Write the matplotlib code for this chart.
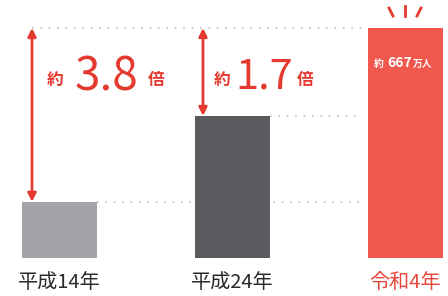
import matplotlib
matplotlib.use("Agg")
import matplotlib.pyplot as plt

plt.rcParams['font.family'] = ['Noto Sans CJK JP', 'DejaVu Sans']

categories = ["平成14年", "平成24年", "令和4年"]
values = [163, 412, 667]
ratio_labels = ["3.8", "1.7"]
value_label = "667"

bar_colors = ["#a3a4a8", "#5b5b5f", "#f0584e"]
label_colors = ["#2a2a2a", "#2a2a2a", "#e8483e"]
red = "#e53a2f"

W, H = 448, 296
fig = plt.figure(figsize=(W / 100, H / 100), dpi=100)
ax = fig.add_axes([0, (H - 258) / H, 1, 258 / H])
ax.set_axis_off()

sp = 173.0
width = 75 / sp
ax.set_xlim(-59.5 / sp, 2 + (W - 405.5) / sp)
ax.set_ylim(0, values[2] * 258 / 230)

x = list(range(len(categories)))
ax.bar(x, values, width=width, color=bar_colors, zorder=3)

def px2x(px):
    return (px - 59.5) / sp

dot_style = (0, (1, 4.5))
right_end = px2x(362)
arrow_x = [x[0] - width / 2 + 10 / sp, x[1] - width / 2 + 8 / sp]
ax.hlines(values[2], arrow_x[0], right_end, colors="#b5b5b5", linestyles=[dot_style], lw=1.1, zorder=1)
ax.hlines(values[1], x[1] + width / 2, right_end, colors="#b5b5b5", linestyles=[dot_style], lw=1.1, zorder=1)
ax.hlines(values[0], x[0] + width / 2, right_end, colors="#b5b5b5", linestyles=[dot_style], lw=1.1, zorder=1)

for i in range(2):
    ax.annotate("", xy=(arrow_x[i], values[i]), xytext=(arrow_x[i], values[2]),
                arrowprops=dict(arrowstyle="<|-|>", color=red, lw=2,
                                mutation_scale=12, shrinkA=0, shrinkB=0),
                zorder=5)

def ftext(px, py, s, **kw):
    fig.text(px / W, 1 - py / H, s, **kw)

# ratio annotations
ftext(55, 80, "約", fontsize=12, color=red, ha="center", va="center", fontweight="bold")
ftext(107, 77, ratio_labels[0], fontsize=33, color=red, ha="center", va="center", fontweight="normal")
ftext(156, 80, "倍", fontsize=12, color=red, ha="center", va="center", fontweight="bold")

ftext(222, 80, "約", fontsize=12, color=red, ha="center", va="center", fontweight="bold")
ftext(264, 77, ratio_labels[1], fontsize=30, color=red, ha="center", va="center", fontweight="normal")
ftext(305, 80, "倍", fontsize=12, color=red, ha="center", va="center", fontweight="bold")

# value inside red bar
ftext(379, 64, "約", fontsize=7, color="white", ha="center", va="center", fontweight="bold")
ftext(400, 63, value_label, fontsize=10, color="white", ha="center", va="center", fontweight="bold")
ftext(423, 64, "万人", fontsize=7, color="white", ha="center", va="center", fontweight="bold")

# sparkle strokes above red bar
fig.add_artist(plt.Line2D([389 / W, 393 / W], [1 - 8 / H, 1 - 16 / H], color=red, lw=2))
fig.add_artist(plt.Line2D([405 / W, 405 / W], [1 - 6 / H, 1 - 16 / H], color=red, lw=2))
fig.add_artist(plt.Line2D([421 / W, 417 / W], [1 - 8 / H, 1 - 16 / H], color=red, lw=2))

# category labels
for i, (c, col) in enumerate(zip(categories, label_colors)):
    ax.text(x[i], -25 / 258, c, transform=ax.get_xaxis_transform(), ha="center", va="center",
            fontsize=14.5, color=col)

fig.savefig("out.png", dpi=100, facecolor="white")
